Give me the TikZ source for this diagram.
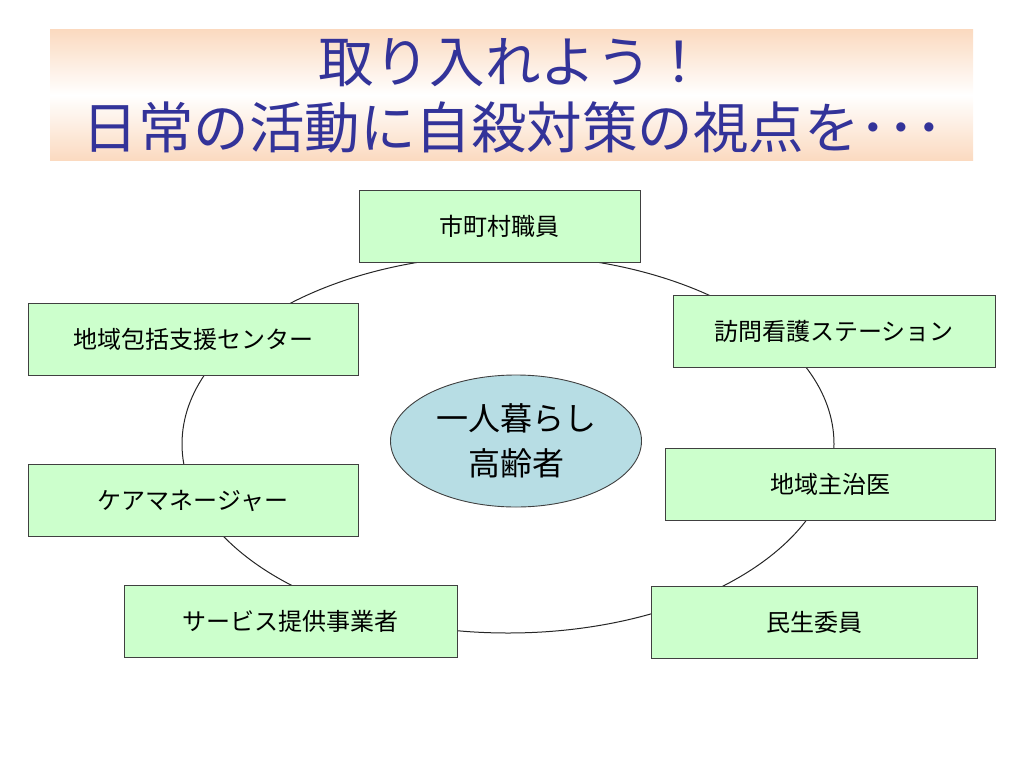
\documentclass[tikz,border=0pt]{standalone}
\usepackage{fontspec}
\setmainfont{Noto Sans CJK JP}
\usepackage{tikz}
\usetikzlibrary{shapes.geometric}
\definecolor{boxgreen}{RGB}{204,255,204}
\definecolor{titleblue}{RGB}{51,51,153}
\definecolor{peach}{RGB}{251,218,192}
\definecolor{elderblue}{RGB}{183,221,228}

\begin{document}
\begin{tikzpicture}[x=1pt,y=-1pt,line width=0.9pt]
\tikzstyle{every node}=[inner sep=0pt]
\tikzstyle{member}=[rectangle,draw=black!75,fill=boxgreen,minimum height=72pt,
font=\fontsize{24}{28}\selectfont]
\useasboundingbox (0,0) rectangle (1024,768);

% banner
\shade[top color=peach,bottom color=peach,middle color=white] (50,30) rectangle (973,160);
\node[text=titleblue,align=center,font=\fontsize{55.5}{66}\selectfont] (title) at (513,96)
  {取り入れよう！\\日常の活動に自殺対策の視点を･･･};

% ring behind the boxes
\node[ellipse,draw=black!85,line width=1pt,minimum width=652pt,minimum height=378pt] (ring) at (508,444) {};

\node[member,minimum width=281pt] (shicho)   at (499.5,226) {市町村職員};
\node[member,minimum width=330pt] (houkatsu) at (193,339)   {地域包括支援センター};
\node[member,minimum width=322pt] (houmon)   at (834,331)   {訪問看護ステーション};
\node[member,minimum width=330pt] (care)     at (193,500.5) {ケアマネージャー};
\node[member,minimum width=330pt] (shuji)    at (830,484.5) {地域主治医};
\node[member,minimum width=333pt] (service)  at (290.5,621) {サービス提供事業者};
\node[member,minimum width=326pt] (minsei)   at (814,622)   {民生委員};

% centre
\node[ellipse,draw=black!75,fill=elderblue,minimum width=251pt,minimum height=132pt,
align=center,font=\fontsize{32}{45}\selectfont] (elder) at (516,441) {一人暮らし\\高齢者};
\end{tikzpicture}
\end{document}
